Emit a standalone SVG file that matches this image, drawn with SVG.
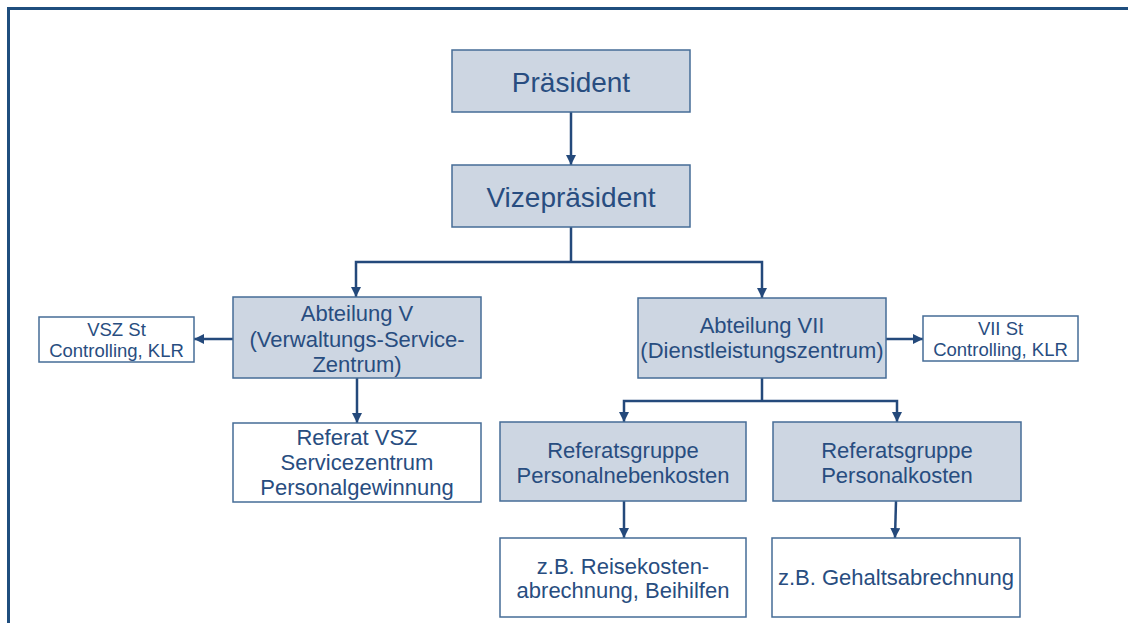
<svg xmlns="http://www.w3.org/2000/svg" width="1128" height="623" viewBox="0 0 1128 623">
  <defs>
    <marker id="arrow" viewBox="0 0 10 10" refX="10" refY="5" markerWidth="10" markerHeight="10" markerUnits="userSpaceOnUse" orient="auto">
      <path d="M0,0 L10,5 L0,10 Z" fill="#24497b"/>
    </marker>
    <style>
      .frame { fill: none; stroke: #1f4e7e; stroke-width: 3; }
      .unit { fill: #cdd6e2; stroke: #456c97; stroke-width: 1.5; }
      .plain { fill: #ffffff; stroke: #456c97; stroke-width: 1.5; }
      .link { fill: none; stroke: #24497b; stroke-width: 2.5; }
      .arr { marker-end: url(#arrow); }
      text { font-family: "Liberation Sans", Arial, sans-serif; fill: #284d80; text-anchor: middle; }
      .t-lg { font-size: 28px; }
      .t-md { font-size: 22px; }
      .t-sm { font-size: 18.5px; }
    </style>
  </defs>

  <rect width="1128" height="623" fill="#ffffff"/>
  <!-- outer frame (open to the right and bottom) -->
  <path class="frame" d="M8.5,623 V8.5 H1128"/>

  <!-- connectors -->
  <g id="connectors">
    <line class="link arr" x1="571" y1="112" x2="571" y2="165"/>
    <polyline class="link" points="571,227 571,262"/>
    <polyline class="link arr" points="571,262 356,262 356,297"/>
    <polyline class="link arr" points="571,262 762,262 762,298"/>
    <line class="link arr" x1="233" y1="339" x2="194" y2="339"/>
    <line class="link arr" x1="886" y1="339" x2="923" y2="339"/>
    <line class="link arr" x1="357" y1="378" x2="357" y2="423"/>
    <polyline class="link" points="762,378 762,401"/>
    <polyline class="link arr" points="762,401 624,401 624,422"/>
    <polyline class="link arr" points="762,401 897,401 897,422"/>
    <line class="link arr" x1="624" y1="501" x2="624" y2="538"/>
    <line class="link arr" x1="896" y1="501" x2="895" y2="538"/>
  </g>

  <g id="praesident">
    <rect class="unit" x="452" y="50" width="238" height="62"/>
    <text class="t-lg" x="571" y="92">Präsident</text>
  </g>

  <g id="vizepraesident">
    <rect class="unit" x="452" y="165" width="238" height="62"/>
    <text class="t-lg" x="571" y="207">Vizepräsident</text>
  </g>

  <g id="abteilung-v">
    <rect class="unit" x="233" y="297" width="248" height="81"/>
    <text class="t-md" x="357" y="321">Abteilung V</text>
    <text class="t-md" x="357" y="346.5">(Verwaltungs-Service-</text>
    <text class="t-md" x="357" y="372">Zentrum)</text>
  </g>

  <g id="vsz-st">
    <rect class="plain" x="39" y="317" width="155" height="45"/>
    <text class="t-sm" x="116.5" y="336">VSZ St</text>
    <text class="t-sm" x="116.5" y="357">Controlling, KLR</text>
  </g>

  <g id="abteilung-vii">
    <rect class="unit" x="638" y="298" width="248" height="80"/>
    <text class="t-md" x="762" y="333">Abteilung VII</text>
    <text class="t-md" x="762" y="358">(Dienstleistungszentrum)</text>
  </g>

  <g id="vii-st">
    <rect class="plain" x="923" y="316" width="155" height="45"/>
    <text class="t-sm" x="1000.5" y="335">VII St</text>
    <text class="t-sm" x="1000.5" y="356">Controlling, KLR</text>
  </g>

  <g id="referat-vsz">
    <rect class="plain" x="233" y="423" width="248" height="79"/>
    <text class="t-md" x="357" y="445">Referat VSZ</text>
    <text class="t-md" x="357" y="470">Servicezentrum</text>
    <text class="t-md" x="357" y="495">Personalgewinnung</text>
  </g>

  <g id="rg-personalnebenkosten">
    <rect class="unit" x="500" y="422" width="246" height="79"/>
    <text class="t-md" x="623" y="458">Referatsgruppe</text>
    <text class="t-md" x="623" y="483">Personalnebenkosten</text>
  </g>

  <g id="rg-personalkosten">
    <rect class="unit" x="773" y="422" width="248" height="79"/>
    <text class="t-md" x="897" y="458">Referatsgruppe</text>
    <text class="t-md" x="897" y="483">Personalkosten</text>
  </g>

  <g id="reisekosten">
    <rect class="plain" x="500" y="538" width="246" height="79"/>
    <text class="t-md" x="623" y="574">z.B. Reisekosten-</text>
    <text class="t-md" x="623" y="598">abrechnung, Beihilfen</text>
  </g>

  <g id="gehaltsabrechnung">
    <rect class="plain" x="772" y="538" width="248" height="79"/>
    <text class="t-md" x="896" y="585">z.B. Gehaltsabrechnung</text>
  </g>
</svg>
